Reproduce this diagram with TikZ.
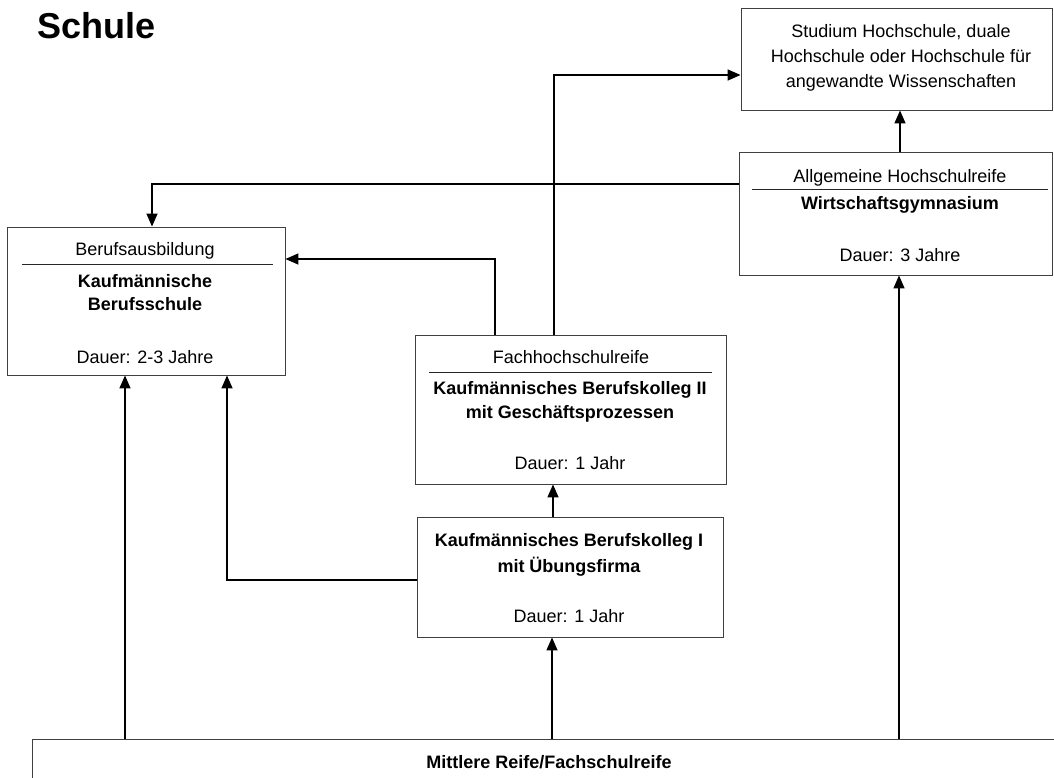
\documentclass[tikz,border=0pt]{standalone}
\usepackage{fontspec}
\setmainfont{Liberation Sans}
\usetikzlibrary{arrows.meta}

\tikzset{
  kasten/.style={draw=black!75, line width=0.9pt, rectangle, inner sep=0pt},
  zeile/.style={font=\fontsize{18}{22}\selectfont, inner sep=0pt, anchor=base},
  fett/.style={zeile, font=\fontsize{18}{22}\selectfont\bfseries},
  trenner/.style={line width=0.9pt, black!85},
  pfeil/.style={line width=1.5pt, -{Triangle[length=13pt,width=11pt]}},
}

\begin{document}
\begin{tikzpicture}[x=1pt, y=-1pt]
\useasboundingbox (0,0) rectangle (1054,777);
\clip (0,0) rectangle (1054,777);

% Titel
\node[anchor=base west, inner sep=0pt, font=\fontsize{36}{40}\selectfont\bfseries] (titel) at (37,38) {Schule};

% Kaesten
\node[kasten, minimum width=311, minimum height=102] (studium) at (896.5,59) {};
\node[kasten, minimum width=313, minimum height=123] (abitur) at (895.5,213.5) {};
\node[kasten, minimum width=278, minimum height=148] (ausbildung) at (146,301) {};
\node[kasten, minimum width=311, minimum height=149] (fhr) at (570.5,409.5) {};
\node[kasten, minimum width=306, minimum height=120] (kolleg) at (570,577) {};
\node[kasten, minimum width=1048, minimum height=81] (reife) at (556,779.5) {};

% Texte
\node[zeile] (studium-1) at (901,37) {Studium Hochschule, duale};
\node[zeile] (studium-2) at (901,62) {Hochschule oder Hochschule für};
\node[zeile] (studium-3) at (901,87) {angewandte Wissenschaften};

\node[zeile] (abitur-kopf) at (900,182) {Allgemeine Hochschulreife};
\draw[trenner] (752,189) -- (1048,189);
\node[fett] (abitur-name) at (900,209) {Wirtschaftsgymnasium};
\node[zeile] (abitur-dauer) at (900,261) {Dauer: 3 Jahre};

\node[zeile] (ausb-kopf) at (145,255) {Berufsausbildung};
\draw[trenner] (22,264) -- (273,264);
\node[fett] (ausb-name1) at (145,287) {Kaufmännische};
\node[fett] (ausb-name2) at (145,310) {Berufsschule};
\node[zeile] (ausb-dauer) at (145,363) {Dauer: 2-3 Jahre};

\node[zeile] (fhr-kopf) at (571,363) {Fachhochschulreife};
\draw[trenner] (429,372) -- (712,372);
\node[fett] (fhr-name1) at (570,394) {Kaufmännisches Berufskolleg II};
\node[fett] (fhr-name2) at (570,418) {mit Geschäftsprozessen};
\node[zeile] (fhr-dauer) at (570,469) {Dauer: 1 Jahr};

\node[fett] (kolleg-name1) at (569,546) {Kaufmännisches Berufskolleg I};
\node[fett] (kolleg-name2) at (569,572) {mit Übungsfirma};
\node[zeile] (kolleg-dauer) at (569,622) {Dauer: 1 Jahr};

\node[fett] (reife-name) at (549,768) {Mittlere Reife/Fachschulreife};

% Verbindungen
\coordinate (k-ab) at (152,184);
\coordinate (k-fa) at (495,259);
\coordinate (k-fs) at (554,75);
\coordinate (k-ka) at (227,580);
\coordinate (s-1) at (125,0);
\coordinate (s-2) at (552,0);
\coordinate (s-3) at (899,0);
\coordinate (s-4) at (900,0);
\coordinate (s-5) at (553,0);

\draw[pfeil] (s-4 |- abitur.north) -- (s-4 |- studium.south);
\draw[pfeil] (abitur.west |- k-ab) -| (k-ab |- ausbildung.north);
\draw[pfeil] (k-fa |- fhr.north) |- (ausbildung.east |- k-fa);
\draw[pfeil] (k-fs |- fhr.north) |- (studium.west |- k-fs);
\draw[pfeil] (s-5 |- kolleg.north) -- (s-5 |- fhr.south);
\draw[pfeil] (kolleg.west |- k-ka) -| (k-ka |- ausbildung.south);
\draw[pfeil] (s-1 |- reife.north) -- (s-1 |- ausbildung.south);
\draw[pfeil] (s-2 |- reife.north) -- (s-2 |- kolleg.south);
\draw[pfeil] (s-3 |- reife.north) -- (s-3 |- abitur.south);
\end{tikzpicture}
\end{document}
